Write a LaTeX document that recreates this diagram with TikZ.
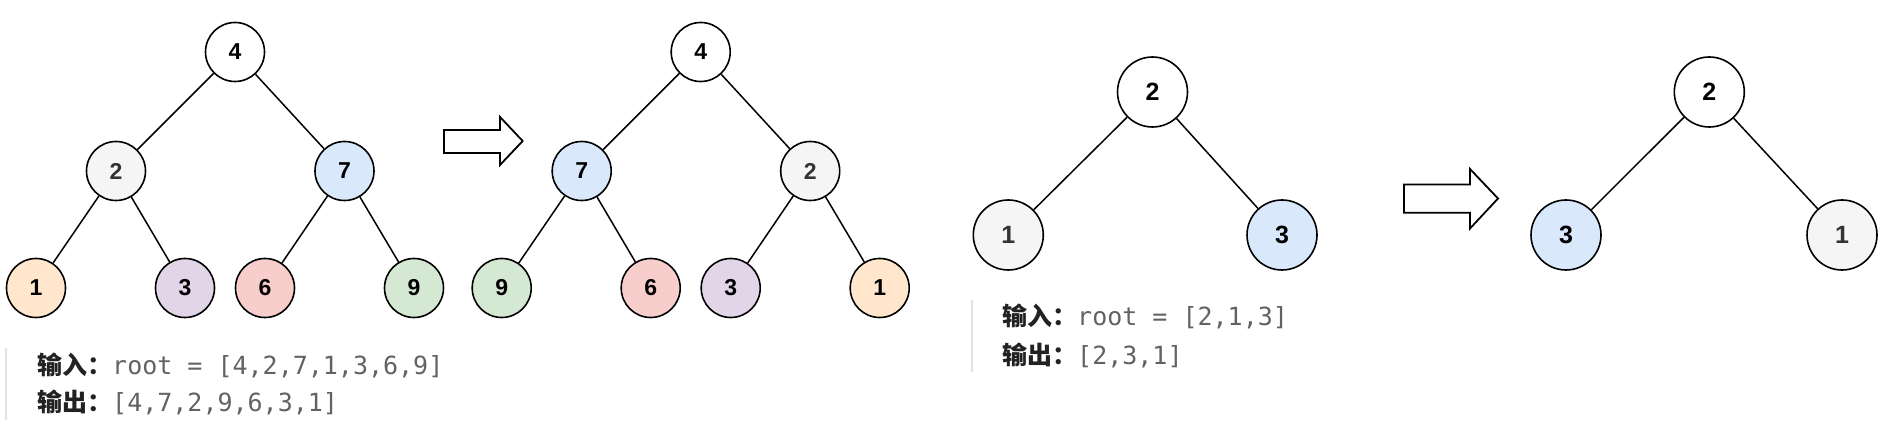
\documentclass[tikz,border=0pt]{standalone}
\usepackage{fontspec}
\setmainfont{Liberation Sans}
\newfontfamily\cjkfont{Noto Sans CJK SC}
\newfontfamily\monofont{DejaVu Sans Mono}
\definecolor{cwhite}{HTML}{FFFFFF}
\definecolor{cgray}{HTML}{F5F5F5}
\definecolor{cblue}{HTML}{DAE8FC}
\definecolor{corange}{HTML}{FFE6CC}
\definecolor{cpurple}{HTML}{E1D5E7}
\definecolor{cred}{HTML}{F8CECC}
\definecolor{cgreen}{HTML}{D5E8D4}
\definecolor{txtgray}{RGB}{98,98,98}
\definecolor{bargray}{RGB}{226,226,226}
\definecolor{cjkdark}{RGB}{34,34,34}
\tikzset{
  tn/.style={circle, draw=black, line width=1.6pt, minimum size=59pt, inner sep=0pt,
    font=\fontsize{23}{23}\selectfont\bfseries},
  bn/.style={tn, minimum size=70pt, font=\fontsize{25}{25}\selectfont\bfseries},
  gn/.style={fill=cgray, text=black!80},
  edge/.style={line width=1.5pt},
  bigarrow/.style={draw=black, line width=1.8pt, fill=white, line join=miter},
  quotebar/.style={draw=bargray, line width=2.5pt},
  io/.style={anchor=base west, inner sep=0pt, font=\fontsize{25}{30}\selectfont},
}
\newcommand{\lbl}[1]{{\cjkfont\bfseries\color{cjkdark}#1}}
\newcommand{\code}[1]{{\monofont\color{txtgray}#1}}
\begin{document}
\begin{tikzpicture}[x=1pt,y=-1pt]
\useasboundingbox (0,0) rectangle (1890,435);
% ---------- tree 1 ----------
\node[tn, fill=cwhite] (a4) at (235,52) {4};
\node[tn, gn] (a2) at (116,171) {2};
\node[tn, fill=cblue] (a7) at (344.5,171) {7};
\node[tn, fill=corange] (a1) at (36,288) {1};
\node[tn, fill=cpurple] (a3) at (185,288) {3};
\node[tn, fill=cred] (a6) at (265,288) {6};
\node[tn, fill=cgreen] (a9) at (414,288) {9};
\draw[edge] (a4) -- (a2);
\draw[edge] (a4) -- (a7);
\draw[edge] (a2) -- (a1);
\draw[edge] (a2) -- (a3);
\draw[edge] (a7) -- (a6);
\draw[edge] (a7) -- (a9);
% ---------- arrow 1 ----------
\draw[bigarrow] (444,130) -- (500,130) -- (500,117) -- (522.7,141) -- (500,165) -- (500,153) -- (444,153) -- cycle;
% ---------- tree 2 ----------
\node[tn, fill=cwhite] (b4) at (700.7,52) {4};
\node[tn, fill=cblue] (b7) at (581.7,171) {7};
\node[tn, gn] (b2) at (810.2,171) {2};
\node[tn, fill=cgreen] (b9) at (501.7,288) {9};
\node[tn, fill=cred] (b6) at (650.7,288) {6};
\node[tn, fill=cpurple] (b3) at (730.7,288) {3};
\node[tn, fill=corange] (b1) at (879.7,288) {1};
\draw[edge] (b4) -- (b7);
\draw[edge] (b4) -- (b2);
\draw[edge] (b7) -- (b9);
\draw[edge] (b7) -- (b6);
\draw[edge] (b2) -- (b3);
\draw[edge] (b2) -- (b1);
% ---------- text 1 ----------
\draw[quotebar] (6,348) -- (6,420);
\node[io] (in1) at (37,374) {\lbl{输入：}\code{root = [4,2,7,1,3,6,9]}};
\node[io] (out1) at (37,411) {\lbl{输出：}\code{[4,7,2,9,6,3,1]}};
% ---------- tree 3 ----------
\node[bn, fill=cwhite] (c2) at (1152.5,92) {2};
\node[bn, gn] (c1) at (1008.3,235) {1};
\node[bn, fill=cblue] (c3) at (1282,235) {3};
\draw[edge] (c2) -- (c1);
\draw[edge] (c2) -- (c3);
% ---------- arrow 2 ----------
\draw[bigarrow] (1404,184.5) -- (1470,184.5) -- (1470,169) -- (1498,198.5) -- (1470,228.5) -- (1470,212.7) -- (1404,212.7) -- cycle;
% ---------- tree 4 ----------
\node[bn, fill=cwhite] (d2) at (1709.3,92) {2};
\node[bn, fill=cblue] (d3) at (1566,235) {3};
\node[bn, gn] (d1) at (1842,235) {1};
\draw[edge] (d2) -- (d3);
\draw[edge] (d2) -- (d1);
% ---------- text 2 ----------
\draw[quotebar] (972,300) -- (972,372);
\node[io] (in2) at (1002,326) {\lbl{输入：}\code{root = [2,1,3]}};
\node[io] (out2) at (1002,365) {\lbl{输出：}\code{[2,3,1]}};
\end{tikzpicture}
\end{document}
